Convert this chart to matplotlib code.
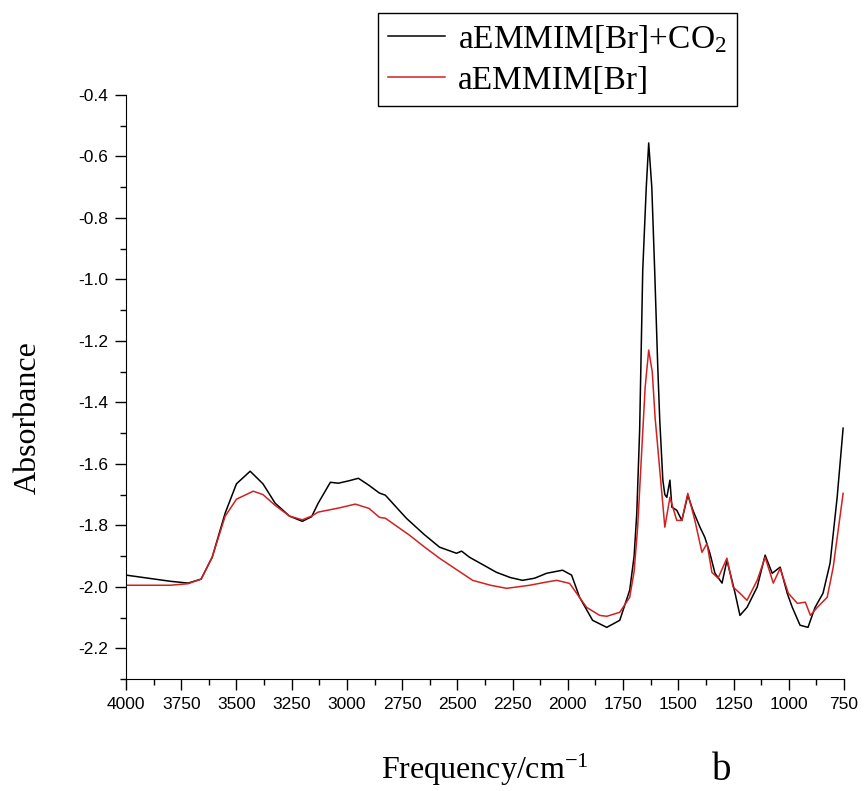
import numpy as np
import matplotlib
matplotlib.use("Agg")
import matplotlib.pyplot as plt
from matplotlib.ticker import MultipleLocator

plt.rcParams['mathtext.fontset'] = 'custom'
plt.rcParams['mathtext.rm'] = 'Liberation Serif'
plt.rcParams['mathtext.it'] = 'Liberation Serif:italic'

# black: aEMMIM[Br]+CO2 (wavenumber, absorbance)
wn_co2 = [4000, 3900, 3800, 3719, 3660, 3610, 3551, 3500, 3438, 3380, 3325, 3260, 3202, 3160,
          3130, 3075, 3039, 2990, 2948, 2900, 2853, 2826, 2731, 2650, 2581, 2504, 2481, 2445,
          2380, 2323, 2260, 2205, 2150, 2096, 2024, 1983, 1947, 1888, 1824, 1765, 1720, 1700,
          1688, 1675, 1661, 1645, 1634, 1620, 1607, 1593, 1584, 1570, 1561, 1552, 1538, 1529,
          1507, 1484, 1457, 1434, 1402, 1380, 1357, 1334, 1302, 1280, 1257, 1243, 1221, 1189,
          1143, 1107, 1075, 1039, 1007, 984, 949, 913, 881, 845, 813, 781, 754]
ab_co2 = [-1.962, -1.972, -1.982, -1.988, -1.975, -1.904, -1.76, -1.665, -1.624, -1.665, -1.728, -1.77, -1.787, -1.772,
          -1.728, -1.66, -1.663, -1.655, -1.647, -1.670, -1.695, -1.702, -1.777, -1.83, -1.871, -1.891, -1.884, -1.904,
          -1.93, -1.953, -1.970, -1.979, -1.972, -1.956, -1.946, -1.962, -2.034, -2.109, -2.132, -2.109, -2.011, -1.90,
          -1.761, -1.49, -0.97, -0.70, -0.556, -0.70, -0.97, -1.285, -1.458, -1.653, -1.700, -1.709, -1.653, -1.741,
          -1.751, -1.784, -1.702, -1.751, -1.806, -1.839, -1.891, -1.956, -1.988, -1.914, -1.979, -2.021, -2.093, -2.067,
          -2.001, -1.897, -1.956, -1.936, -2.021, -2.067, -2.125, -2.132, -2.067, -2.021, -1.923, -1.709, -1.484]

# red: aEMMIM[Br]
wn_br = [4000, 3900, 3800, 3719, 3660, 3610, 3551, 3500, 3424, 3380, 3325, 3260, 3202, 3160,
         3130, 3039, 2962, 2900, 2853, 2826, 2717, 2650, 2581, 2431, 2350, 2277, 2173, 2100,
         2050, 1992, 1915, 1856, 1824, 1765, 1720, 1700, 1684, 1665, 1650, 1634, 1618, 1605,
         1593, 1561, 1538, 1507, 1484, 1457, 1425, 1393, 1370, 1348, 1320, 1280, 1252, 1221,
         1189, 1143, 1107, 1070, 1039, 1002, 961, 925, 902, 871, 826, 799, 754]
ab_br = [-1.995, -1.995, -1.995, -1.99, -1.975, -1.904, -1.77, -1.715, -1.689, -1.70, -1.735, -1.77, -1.782, -1.770,
         -1.757, -1.744, -1.731, -1.745, -1.774, -1.777, -1.832, -1.87, -1.907, -1.979, -1.995, -2.005, -1.995, -1.985,
         -1.979, -1.989, -2.067, -2.093, -2.096, -2.083, -2.034, -1.95, -1.806, -1.55, -1.35, -1.23, -1.30, -1.45,
         -1.546, -1.806, -1.709, -1.784, -1.784, -1.696, -1.784, -1.888, -1.859, -1.953, -1.972, -1.907, -2.001, -2.021,
         -2.044, -1.979, -1.904, -1.988, -1.940, -2.021, -2.054, -2.050, -2.093, -2.067, -2.034, -1.937, -1.696]

fig = plt.figure(figsize=(8.64, 7.91), dpi=100)
ax = fig.add_axes([126 / 864, 1 - 679 / 791, (844 - 126) / 864, (679 - 95) / 791])

l1, = ax.plot(wn_co2, ab_co2, color='black', lw=1.1)
l2, = ax.plot(wn_br, ab_br, color='#d42020', lw=1.1)

ax.set_xlim(4000, 750)
ax.set_ylim(-2.3, -0.4)
ax.xaxis.set_major_locator(MultipleLocator(250))
ax.xaxis.set_minor_locator(MultipleLocator(125))
ax.yaxis.set_major_locator(MultipleLocator(0.2))
ax.yaxis.set_minor_locator(MultipleLocator(0.1))
ax.tick_params(which='major', direction='out', length=8, width=1.0, labelsize=12.5, pad=5)
ax.tick_params(which='minor', direction='out', length=4.5, width=1.0)
ax.spines['top'].set_visible(False)
ax.spines['right'].set_visible(False)
for lab in ax.get_xticklabels() + ax.get_yticklabels():
    lab.set_family('Liberation Sans')
ax.yaxis.set_major_formatter(matplotlib.ticker.FormatStrFormatter('%.1f'))

fig.text(28 / 864, 1 - 418 / 791, 'Absorbance', family='Liberation Serif', fontsize=23,
         rotation=90, ha='center', va='center')
fig.text(485 / 864, 1 - 770 / 791, 'Frequency/cm$^{-1}$', family='Liberation Serif', fontsize=23,
         ha='center', va='center')
fig.text(722 / 864, 1 - 770 / 791, 'b', family='Liberation Serif', fontsize=28, ha='center', va='center')

leg = fig.legend([l1, l2], ['aEMMIM[Br]+CO$_2$', 'aEMMIM[Br]'],
                 loc='upper left', bbox_to_anchor=(378 / 864, 1 - 13 / 791), borderaxespad=0,
                 prop={'family': 'Liberation Serif', 'size': 24}, fancybox=False,
                 edgecolor='black', framealpha=1, handlelength=1.7, borderpad=0.3,
                 labelspacing=0.3, handletextpad=0.4)
leg.get_frame().set_linewidth(1.0)

fig.savefig('out.png', dpi=100)
